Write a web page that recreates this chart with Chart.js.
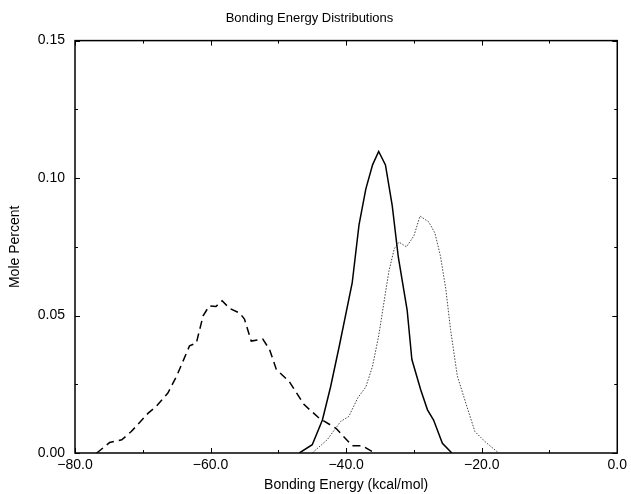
<!DOCTYPE html>
<html>
<head>
<meta charset="utf-8">
<script src="https://cdn.jsdelivr.net/npm/chart.js@4/dist/chart.umd.min.js"></script>
<style>
html,body{margin:0;padding:0;background:#fff;}
#wrap{width:631px;height:494px;position:relative;}
</style>
</head>
<body>
<div id="wrap"><canvas id="c" width="631" height="494"></canvas></div>
<script>
// ---- data ----
const dashedX = [-76.8,-74.9,-73.1,-71.7,-69.2,-68.0,-66.3,-65.0,-63.1,-62.1,-61.1,-60.2,-59.2,-58.3,-57.2,-55.7,-55.0,-54.0,-52.3,-51.3,-50.3,-48.4,-46.2,-44.0,-41.5,-39.1,-37.6,-35.8];
const dashedY = [0.0,0.0038,0.0048,0.0078,0.0145,0.017,0.0218,0.028,0.039,0.040,0.0499,0.0535,0.0533,0.0554,0.0526,0.0509,0.0487,0.0407,0.0414,0.0377,0.0304,0.026,0.0176,0.0127,0.009,0.0026,0.0026,0.0];

const solidX = [-46.9,-45.0,-43.5,-42.3,-41.0,-39.1,-38.1,-37.1,-36.1,-35.2,-34.2,-33.2,-32.3,-31.0,-30.3,-29.0,-28.0,-27.1,-25.8,-24.4];
const solidY = [0.0,0.003,0.012,0.024,0.039,0.062,0.083,0.096,0.1048,0.1097,0.1048,0.090,0.0712,0.052,0.034,0.023,0.0157,0.012,0.0035,0.0];

const dottedX = [-45.0,-42.8,-40.8,-39.6,-38.3,-37.1,-36.1,-35.2,-33.7,-32.9,-32.2,-31.1,-30.0,-29.1,-27.8,-26.9,-26.1,-25.3,-24.6,-23.6,-22.2,-21.0,-19.5,-17.5];
const dottedY = [0.0,0.0048,0.0115,0.0133,0.020,0.024,0.0316,0.0426,0.066,0.0743,0.0767,0.075,0.079,0.0862,0.084,0.080,0.0718,0.0597,0.045,0.028,0.017,0.0078,0.0041,0.0];

const xTicks = [-80,-60,-40,-20,0];
const xMinorTicks = [-70,-50,-30,-10];
const yTicks = [0,0.05,0.10,0.15];
const yMinorTicks = [0.025,0.075,0.125];

const titleText = 'Bonding Energy Distributions';
const xTitle = 'Bonding Energy (kcal/mol)';
const yTitle = 'Mole Percent';

const pts = (xs, ys) => xs.map((v,i)=>({x:v, y:ys[i]}));
const FONT = "'Liberation Sans', Arial, Helvetica, sans-serif";

const frameTicks = {
  id:'frameTicks',
  afterDraw(chart){
    const {ctx, chartArea:a, scales} = chart;
    const x = scales.x, y = scales.y;
    ctx.save();
    ctx.strokeStyle = '#000';
    ctx.lineWidth = 1.5;
    ctx.strokeRect(a.left, a.top, a.right-a.left, a.bottom-a.top);
    ctx.lineWidth = 1;
    const maj = 5, min = 3;
    ctx.beginPath();
    xTicks.forEach(v=>{const p=Math.round(x.getPixelForValue(v))+0.5;
      ctx.moveTo(p,a.bottom); ctx.lineTo(p,a.bottom-maj);
      ctx.moveTo(p,a.top); ctx.lineTo(p,a.top+maj);});
    xMinorTicks.forEach(v=>{const p=Math.round(x.getPixelForValue(v))+0.5;
      ctx.moveTo(p,a.bottom); ctx.lineTo(p,a.bottom-min);
      ctx.moveTo(p,a.top); ctx.lineTo(p,a.top+min);});
    yTicks.forEach(v=>{const p=Math.round(y.getPixelForValue(v))+0.5;
      ctx.moveTo(a.left,p); ctx.lineTo(a.left+maj,p);
      ctx.moveTo(a.right,p); ctx.lineTo(a.right-maj,p);});
    yMinorTicks.forEach(v=>{const p=Math.round(y.getPixelForValue(v))+0.5;
      ctx.moveTo(a.left,p); ctx.lineTo(a.left+min,p);
      ctx.moveTo(a.right,p); ctx.lineTo(a.right-min,p);});
    ctx.stroke();
    ctx.restore();
  }
};

new Chart(document.getElementById('c'), {
  type:'line',
  data:{
    datasets:[
      {label:'dashed', data:pts(dashedX,dashedY), borderColor:'#000', borderWidth:1.5, borderDash:[8,5], pointRadius:0, tension:0, fill:false},
      {label:'solid', data:pts(solidX,solidY), borderColor:'#000', borderWidth:1.5, pointRadius:0, tension:0, fill:false},
      {label:'dotted', data:pts(dottedX,dottedY), borderColor:'#444', borderWidth:1, borderDash:[1.5,1.5], pointRadius:0, tension:0, fill:false}
    ]
  },
  options:{
    responsive:false,
    animation:false,
    layout:{padding:{left:0,right:12,top:2,bottom:0}},
    plugins:{
      legend:{display:false},
      tooltip:{enabled:false},
      title:{display:true, text:titleText, color:'#000', font:{family:FONT,size:13,weight:'normal'}, padding:{top:9,bottom:14}}
    },
    scales:{
      x:{type:'linear', min:-80, max:0,
        afterFit(s){ s.height = 41; },
        afterBuildTicks(s){ s.ticks = xTicks.map(v=>({value:v})); },
        ticks:{color:'#000', font:{family:FONT,size:14}, padding:4, maxRotation:0,
          callback:v=>v.toFixed(1).replace('-','\u2212')},
        grid:{display:false, drawTicks:false},
        border:{display:false},
        title:{display:true, text:xTitle, color:'#000', font:{family:FONT,size:14}, padding:{top:0,bottom:0}}
      },
      y:{type:'linear', min:0, max:0.15,
        afterFit(s){ s.width = 75; },
        afterBuildTicks(s){ s.ticks = yTicks.map(v=>({value:v})); },
        ticks:{color:'#000', font:{family:FONT,size:14}, padding:10,
          callback:v=>v.toFixed(2)},
        grid:{display:false, drawTicks:false},
        border:{display:false},
        title:{display:true, text:yTitle, color:'#000', font:{family:FONT,size:14}, padding:{top:7,bottom:0}}
      }
    }
  },
  plugins:[frameTicks]
});
</script>
</body>
</html>
